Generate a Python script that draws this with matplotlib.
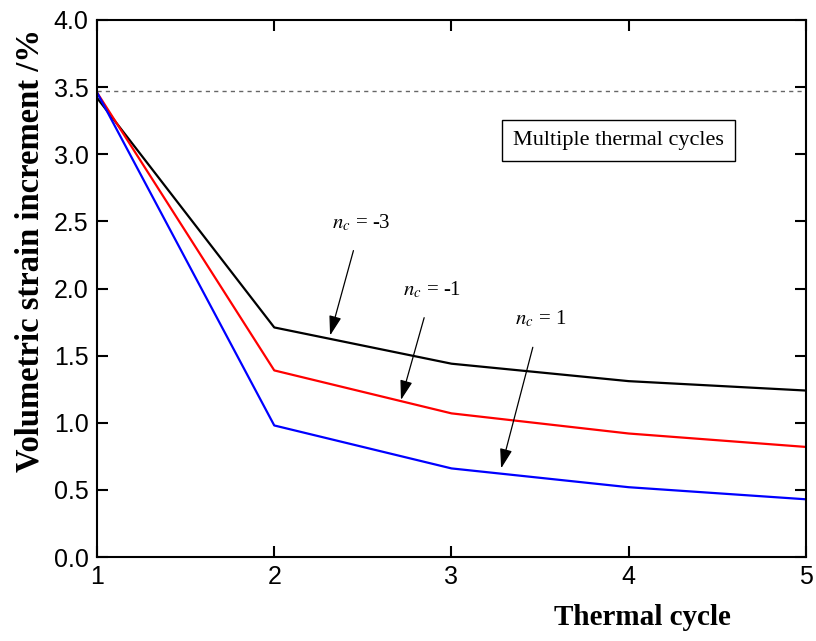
import matplotlib
matplotlib.use("Agg")
import matplotlib.pyplot as plt

plt.rcParams["mathtext.fontset"] = "stix"

cycles = [1, 2, 3, 4, 5]
nc_m3 = [3.42, 1.71, 1.44, 1.31, 1.24]
nc_m1 = [3.46, 1.39, 1.07, 0.92, 0.82]
nc_p1 = [3.46, 0.98, 0.66, 0.52, 0.43]
ref_level = 3.47

xticks = [1, 2, 3, 4, 5]
yticks = [0.0, 0.5, 1.0, 1.5, 2.0, 2.5, 3.0, 3.5, 4.0]

fig = plt.figure(figsize=(8.16, 6.41), dpi=100)
ax = fig.add_axes([0.1189, 0.131, 0.8688, 0.8378])

ax.axhline(ref_level, color="#666666", lw=1.0, ls=(0, (3, 3)))
ax.plot(cycles, nc_m3, color="black", lw=1.6)
ax.plot(cycles, nc_m1, color="red", lw=1.6)
ax.plot(cycles, nc_p1, color="blue", lw=1.6)

ax.set_xlim(1, 5)
ax.set_ylim(0, 4.0)
ax.set_xticks(xticks)
ax.set_xticklabels([str(v) for v in xticks])
ax.set_yticks(yticks)
ax.set_yticklabels([f"{v:.1f}" for v in yticks])

for s in ax.spines.values():
    s.set_linewidth(1.5)
ax.tick_params(direction="in", length=8, width=1.5, top=True, right=True,
               labelsize=18, pad=6)
for lab in ax.get_xticklabels() + ax.get_yticklabels():
    lab.set_family("Liberation Sans")

ax.set_xlabel("Thermal cycle", family="Liberation Serif", fontweight="bold", fontsize=21)
ax.xaxis.set_label_coords(0.77, -0.088)
ax.set_ylabel("Volumetric strain increment /%", family="Liberation Serif",
              fontweight="bold", fontsize=23.5)
ax.yaxis.set_label_coords(-0.072, 0.57)

ax.text(3.94, 3.10, "Multiple thermal cycles", family="Liberation Serif", fontsize=16,
        ha="center", va="center",
        bbox=dict(boxstyle="square,pad=0.5", fc="white", ec="black", lw=1.0))

annots = [
    ("$n_c$ = -3", (2.315, 1.65), (2.49, 2.49)),
    ("$n_c$ = -1", (2.715, 1.17), (2.89, 1.99)),
    ("$n_c$ = 1", (3.28, 0.66), (3.50, 1.77)),
]
for txt, tip, tpos in annots:
    ax.annotate(txt, xy=tip, xytext=tpos, ha="center", va="center",
                fontsize=15, family="Liberation Serif",
                arrowprops=dict(arrowstyle="-|>,head_length=0.8,head_width=0.25",
                                color="black", lw=0.9, shrinkA=11, shrinkB=0))

fig.savefig("out.png", dpi=100)
